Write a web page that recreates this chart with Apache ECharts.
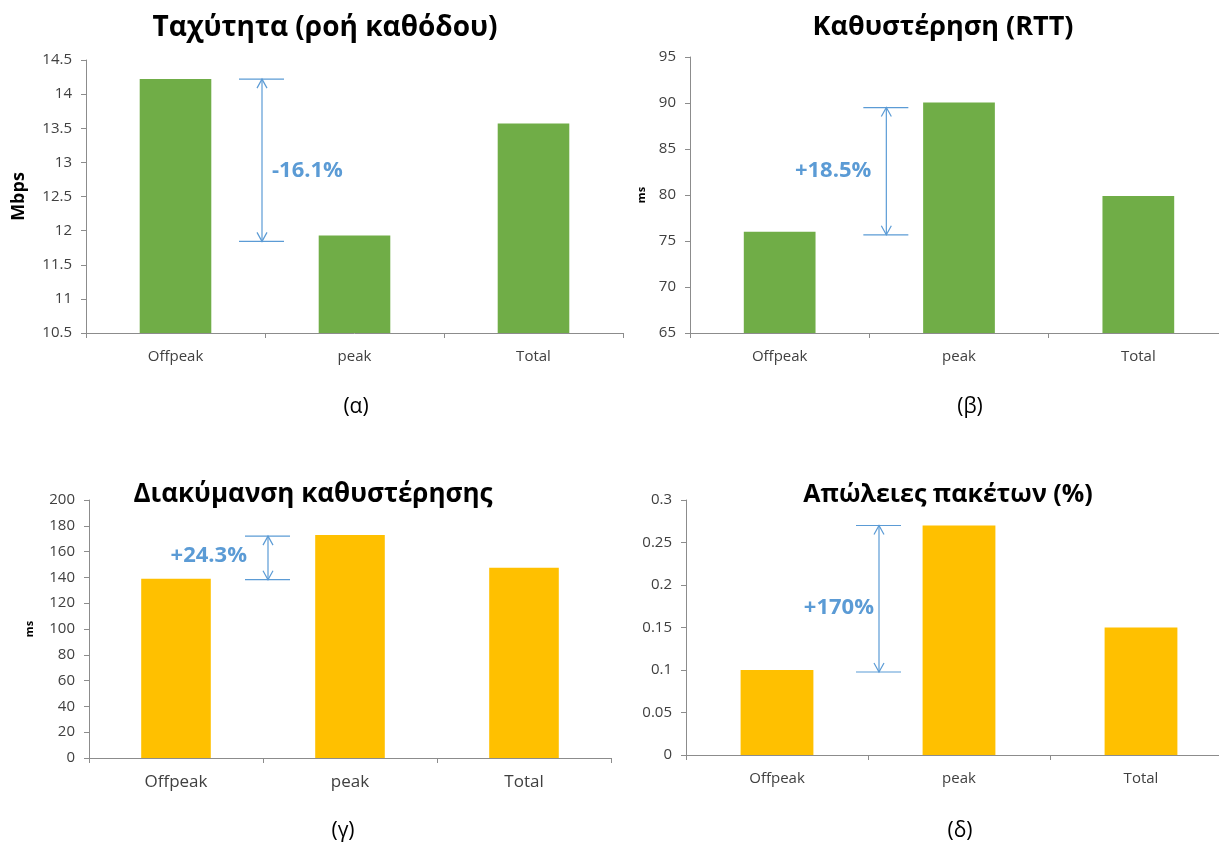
<!DOCTYPE html>
<html>
<head>
<meta charset="utf-8">
<script src="https://cdn.jsdelivr.net/npm/echarts@6/dist/echarts.min.js"></script>
<style>
  html, body { margin: 0; padding: 0; background: #ffffff; overflow: hidden; }
  #chart { width: 1240px; height: 845px; }
</style>
</head>
<body>
<div id="chart"></div>
<script>
// Categories shared by all four panels
const categories = ['Offpeak', 'peak', 'Total'];

// Panel values
const speedMbps = [14.22, 11.93, 13.57];      // (α) download throughput
const rttMs = [76, 90.05, 79.9];              // (β) round-trip time
const jitterMs = [139, 172.8, 147.5];         // (γ) delay variation
const lossPct = [0.1, 0.27, 0.15];            // (δ) packet loss

// Panel titles, captions and change labels
const titles = ['Ταχύτητα (ροή καθόδου)', 'Καθυστέρηση (RTT)', 'Διακύμανση καθυστέρησης', 'Απώλειες πακέτων (%)'];
const captions = ['(α)', '(β)', '(γ)', '(δ)'];
const changeLabels = ['-16.1%', '+18.5%', '+24.3%', '+170%'];
const axisNames = ['Mbps', 'ms', 'ms', ''];

const GREEN = '#70AD47';
const AMBER = '#FFC000';
const BLUE = '#5B9BD5';
const FONT = '"Open Sans", "Noto Sans", sans-serif';

const panels = [
  { values: speedMbps, color: GREEN, grid: { left: 86, top: 60, width: 537, height: 273 },
    y: { min: 10.5, max: 14.5, interval: 0.5 }, nameGap: 58, nameSize: 18, xLabelSize: 15,
    arrowDx: -3, labelSide: 'right', labelDx: 10, labelDy: 10, botNudge: 6, topNudge: 0 },
  { values: rttMs, color: GREEN, grid: { left: 690, top: 57, width: 538, height: 276 },
    y: { min: 65, max: 95, interval: 5 }, nameGap: 43, nameSize: 11, xLabelSize: 15,
    arrowDx: 17, labelSide: 'left', labelDx: -15, labelDy: 0, botNudge: 3, topNudge: 5 },
  { values: jitterMs, color: AMBER, grid: { left: 89, top: 500, width: 522, height: 258 },
    y: { min: 0, max: 200, interval: 20 }, nameGap: 54, nameSize: 11, xLabelSize: 17,
    arrowDx: 5, labelSide: 'left', labelDx: -21, labelDy: -2, botNudge: 1, topNudge: 1 },
  { values: lossPct, color: AMBER, grid: { left: 686, top: 500, width: 546, height: 255 },
    y: { min: 0, max: 0.3, interval: 0.05 }, nameGap: 50, nameSize: 11, xLabelSize: 15,
    arrowDx: 11, labelSide: 'left', labelDx: -5, labelDy: 9, botNudge: 2, topNudge: 0 }
];

// Title / caption anchor points and title sizes
const titlePos = [[325, 28], [943, 27], [313, 495], [948, 495]];
const titleSize = [28, 27, 26, 25];
const captionPos = [[356, 407], [970, 407], [343, 831], [960, 831]];

const chart = echarts.init(document.getElementById('chart'), null, { renderer: 'canvas' });

const grids = [], xAxes = [], yAxes = [], series = [], graphics = [];

panels.forEach((p, i) => {
  grids.push(Object.assign({ containLabel: false }, p.grid));
  xAxes.push({
    type: 'category', gridIndex: i, data: categories,
    axisLine: { lineStyle: { color: '#8c8c8c', width: 1 } },
    axisTick: { show: true, length: 5, lineStyle: { color: '#8c8c8c' } },
    axisLabel: { color: '#404040', fontSize: p.xLabelSize, fontFamily: FONT, margin: 16 },
    splitLine: { show: false }
  });
  yAxes.push({
    type: 'value', gridIndex: i, min: p.y.min, max: p.y.max, interval: p.y.interval,
    name: axisNames[i], nameLocation: 'middle', nameRotate: 90, nameGap: p.nameGap,
    nameTextStyle: { color: '#000', fontWeight: 'bold', fontSize: p.nameSize, fontFamily: FONT },
    axisLine: { show: true, lineStyle: { color: '#8c8c8c', width: 1 } },
    axisTick: { show: true, length: 5, lineStyle: { color: '#8c8c8c' } },
    axisLabel: { color: '#404040', fontSize: 15, fontFamily: FONT, margin: 14 },
    splitLine: { show: false }
  });
  series.push({
    type: 'bar', xAxisIndex: i, yAxisIndex: i, data: p.values,
    barWidth: '40%', itemStyle: { color: p.color }, silent: true
  });

  // Double-headed bracket between the Offpeak and peak values
  const hi = Math.max(p.values[0], p.values[1]);
  const lo = Math.min(p.values[0], p.values[1]);
  series.push({
    type: 'custom', xAxisIndex: i, yAxisIndex: i, silent: true, z: 5,
    data: [[0, hi, lo]],
    encode: { x: 0, y: [1, 2] },
    renderItem: function (params, api) {
      const a = api.coord([0, api.value(1)]);
      const b = api.coord([1, api.value(1)]);
      const x = (a[0] + b[0]) / 2 + p.arrowDx;
      const yTop = a[1] + p.topNudge;
      const yBot = api.coord([0, api.value(2)])[1] + p.botNudge;
      const ls = { stroke: BLUE, lineWidth: 1.2, fill: null };
      const head = 6, half = 5;
      const children = [
        { type: 'line', shape: { x1: x - 23, y1: yTop, x2: x + 22, y2: yTop }, style: ls },
        { type: 'line', shape: { x1: x - 23, y1: yBot, x2: x + 22, y2: yBot }, style: ls },
        { type: 'line', shape: { x1: x, y1: yTop, x2: x, y2: yBot }, style: ls },
        { type: 'polyline', shape: { points: [[x - half, yTop + head + 3], [x, yTop], [x + half, yTop + head + 3]] }, style: ls },
        { type: 'polyline', shape: { points: [[x - half, yBot - head - 3], [x, yBot], [x + half, yBot - head - 3]] }, style: ls },
        { type: 'text', x: x + p.labelDx, y: (yTop + yBot) / 2 + p.labelDy,
          style: { text: changeLabels[i], fill: BLUE, font: 'bold 22px ' + FONT,
                   align: p.labelSide === 'right' ? 'left' : 'right', verticalAlign: 'middle' } }
      ];
      return { type: 'group', children: children };
    }
  });

  graphics.push({
    type: 'text', x: titlePos[i][0], y: titlePos[i][1],
    style: { text: titles[i], fill: '#000', font: 'bold ' + titleSize[i] + 'px ' + FONT, textAlign: 'center', textVerticalAlign: 'middle' }
  });
  graphics.push({
    type: 'text', x: captionPos[i][0], y: captionPos[i][1],
    style: { text: captions[i], fill: '#000', font: '21px ' + FONT, textAlign: 'center', textVerticalAlign: 'middle' }
  });
});

chart.setOption({
  animation: false,
  backgroundColor: '#ffffff',
  grid: grids,
  xAxis: xAxes,
  yAxis: yAxes,
  series: series,
  graphic: graphics
});
</script>
</body>
</html>
